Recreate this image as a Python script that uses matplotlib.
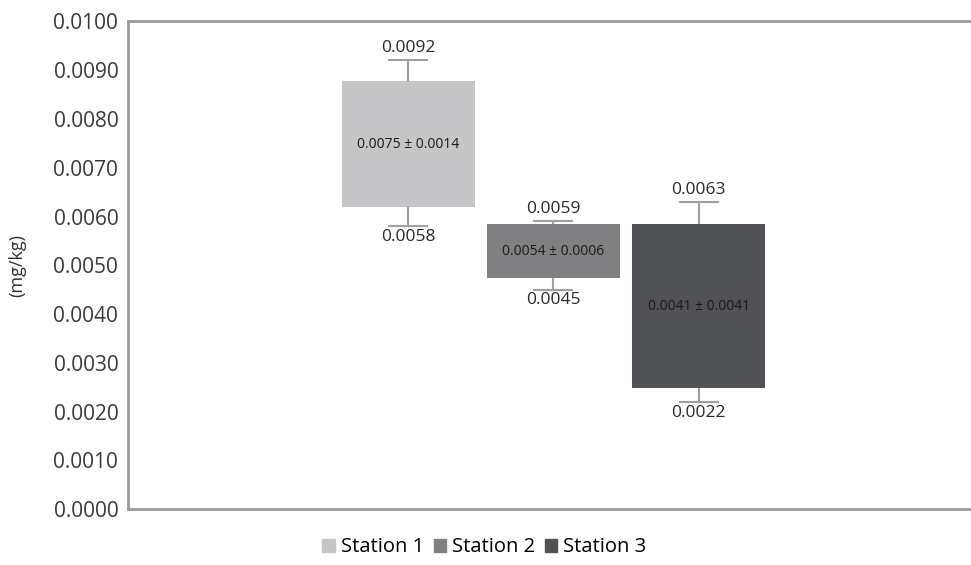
import numpy as np
import matplotlib
matplotlib.use('Agg')
import matplotlib.pyplot as plt
from matplotlib.patches import Patch

plt.rcParams['font.family'] = ['Open Sans', 'DejaVu Sans']

stations = ['Station 1', 'Station 2', 'Station 3']
means = [0.0075, 0.0054, 0.0041]
sds = [0.0014, 0.0006, 0.0041]
box_low = [0.00619, 0.00474, 0.00248]
box_high = [0.00877, 0.00584, 0.00584]
whisk_max = [0.0092, 0.0059, 0.0063]
whisk_min = [0.0058, 0.0045, 0.0022]
colors = ['#c6c6c8', '#808083', '#505256']

fig = plt.figure(figsize=(9.71, 5.65), dpi=100)
ax = fig.add_axes([0.1318, 0.099, 0.87, 0.863])

x = np.arange(len(stations))
width = 0.915
heights = np.array(box_high) - np.array(box_low)
ax.bar(x, heights, width=width, bottom=box_low, color=colors, zorder=2)

wc = '#a0a0a3'
cap = 0.13
for i in range(len(stations)):
    ax.plot([x[i], x[i]], [box_high[i], whisk_max[i]], color=wc, lw=1.5, zorder=1)
    ax.plot([x[i], x[i]], [box_low[i], whisk_min[i]], color=wc, lw=1.5, zorder=1)
    ax.plot([x[i]-cap, x[i]+cap], [whisk_max[i]]*2, color=wc, lw=1.5, zorder=1)
    ax.plot([x[i]-cap, x[i]+cap], [whisk_min[i]]*2, color=wc, lw=1.5, zorder=1)
    ax.annotate(f'{whisk_max[i]:.4f}', (x[i], whisk_max[i]), xytext=(0, 3),
                textcoords='offset points', ha='center', va='bottom', fontsize=12.5, color='#2a2a2a')
    ax.annotate(f'{whisk_min[i]:.4f}', (x[i], whisk_min[i]), xytext=(0, -2),
                textcoords='offset points', ha='center', va='top', fontsize=12.5, color='#2a2a2a')
    ax.text(x[i], (box_low[i] + box_high[i]) / 2, f'{means[i]:.4f} \u00b1 {sds[i]:.4f}',
            ha='center', va='center', fontsize=10, color='#1a1a1a', zorder=3)

ax.set_xlim(-1.927, 3.886)
ax.set_ylim(0, 0.01)
ax.set_yticks(np.arange(0, 0.0101, 0.001))
ax.set_yticklabels([f'{v:.4f}' for v in np.arange(0, 0.0101, 0.001)], fontsize=15, color='#3a3a3a')
ax.set_xticks([])
ax.tick_params(axis='y', length=0, pad=7)
ax.set_ylabel('(mg/kg)', fontsize=13, color='#333333')
ax.yaxis.set_label_coords(-0.12, 0.5)

for s in ['top', 'bottom', 'left']:
    ax.spines[s].set_color('#9a9a9d')
    ax.spines[s].set_linewidth(2)
ax.spines['right'].set_visible(False)

handles = [Patch(color=c, label=s) for c, s in zip(colors, stations)]
fig.legend(handles=handles, loc='center', bbox_to_anchor=(0.499, 0.031), ncol=3, frameon=False,
           fontsize=14.5, handlelength=0.6, handleheight=0.6, handletextpad=0.3, columnspacing=0.5)

fig.savefig('out.png', dpi=100)
